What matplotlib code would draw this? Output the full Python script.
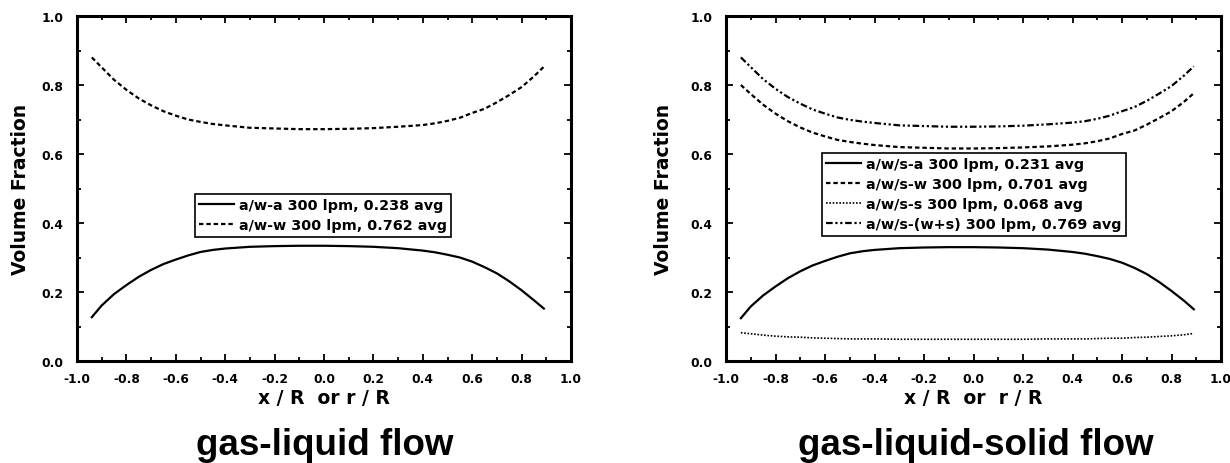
import matplotlib
matplotlib.use("Agg")
import matplotlib.pyplot as plt
from matplotlib.ticker import MultipleLocator, FormatStrFormatter

plt.rcParams['font.family'] = ['DejaVu Sans']
plt.rcParams['font.weight'] = 'bold'

x = [-0.94, -0.9, -0.85, -0.8, -0.75, -0.7, -0.65, -0.6, -0.55, -0.5, -0.45, -0.4, -0.3, -0.2, -0.1,
     0.0, 0.1, 0.2, 0.3, 0.4, 0.45, 0.5, 0.55, 0.6, 0.65, 0.7, 0.75, 0.8, 0.85, 0.89]

gl_air = [0.127, 0.161, 0.194, 0.220, 0.244, 0.264, 0.281, 0.294, 0.306, 0.316, 0.322, 0.326, 0.331, 0.333, 0.334,
          0.334, 0.333, 0.331, 0.327, 0.320, 0.315, 0.308, 0.300, 0.288, 0.272, 0.254, 0.231, 0.205, 0.176, 0.152]
gl_water = [0.880, 0.851, 0.815, 0.786, 0.761, 0.741, 0.724, 0.711, 0.700, 0.693, 0.687, 0.683, 0.676, 0.674, 0.672,
            0.672, 0.673, 0.675, 0.679, 0.684, 0.689, 0.696, 0.705, 0.719, 0.731, 0.750, 0.771, 0.794, 0.825, 0.853]

gls_air = [0.124, 0.158, 0.190, 0.216, 0.240, 0.260, 0.277, 0.290, 0.302, 0.312, 0.318, 0.322, 0.327, 0.329, 0.330,
           0.330, 0.329, 0.327, 0.323, 0.316, 0.311, 0.304, 0.296, 0.285, 0.270, 0.252, 0.229, 0.203, 0.175, 0.150]
gls_water = [0.800, 0.774, 0.743, 0.717, 0.695, 0.677, 0.662, 0.651, 0.641, 0.635, 0.630, 0.626, 0.620, 0.618, 0.616,
             0.616, 0.617, 0.619, 0.622, 0.627, 0.631, 0.637, 0.645, 0.658, 0.668, 0.685, 0.704, 0.724, 0.751, 0.776]
gls_solid = [0.082, 0.079, 0.075, 0.072, 0.070, 0.069, 0.067, 0.066, 0.065, 0.064, 0.064, 0.064, 0.063, 0.063, 0.063,
             0.063, 0.063, 0.063, 0.064, 0.064, 0.064, 0.065, 0.066, 0.066, 0.068, 0.069, 0.071, 0.073, 0.076, 0.080]
gls_ws = [0.880, 0.852, 0.817, 0.789, 0.765, 0.746, 0.729, 0.717, 0.706, 0.699, 0.694, 0.690, 0.683, 0.681, 0.679,
          0.679, 0.680, 0.682, 0.686, 0.691, 0.695, 0.702, 0.711, 0.724, 0.736, 0.754, 0.775, 0.797, 0.827, 0.854]

gl_labels = ["a/w-a 300 lpm, 0.238 avg", "a/w-w 300 lpm, 0.762 avg"]
gls_labels = ["a/w/s-a 300 lpm, 0.231 avg", "a/w/s-w 300 lpm, 0.701 avg",
              "a/w/s-s 300 lpm, 0.068 avg", "a/w/s-(w+s) 300 lpm, 0.769 avg"]
titles = ["gas-liquid flow", "gas-liquid-solid flow"]
xlabels = ["x / R  or r / R", "x / R  or  r / R"]
ylabel = "Volume Fraction"

W, H = 1230, 464
fig = plt.figure(figsize=(W / 100, H / 100), dpi=100)
ax1 = fig.add_axes([77 / W, 1 - 362 / H, 494 / W, 345 / H])
ax2 = fig.add_axes([726 / W, 1 - 362 / H, 495 / W, 345 / H])

lw = 1.6
dash = (0, (2.0, 1.3))
ax1.plot(x, gl_air, color='black', lw=lw, ls='-', label=gl_labels[0])
ax1.plot(x, gl_water, color='black', lw=lw, ls=dash, label=gl_labels[1])

ax2.plot(x, gls_air, color='black', lw=lw, ls='-', label=gls_labels[0])
ax2.plot(x, gls_water, color='black', lw=lw, ls=dash, label=gls_labels[1])
ax2.plot(x, gls_solid, color='black', lw=1.2, ls=(0, (1, 1)), label=gls_labels[2])
ax2.plot(x, gls_ws, color='black', lw=lw, ls=(0, (3, 1.2, 1, 1.2, 1, 1.2)), label=gls_labels[3])

ylab_x = [-0.095, -0.107]
for ax, xl, yx in zip([ax1, ax2], xlabels, ylab_x):
    ax.set_xlim(-1.0, 1.0)
    ax.set_ylim(0.0, 1.0)
    ax.xaxis.set_major_locator(MultipleLocator(0.2))
    ax.xaxis.set_minor_locator(MultipleLocator(0.1))
    ax.yaxis.set_major_locator(MultipleLocator(0.2))
    ax.yaxis.set_minor_locator(MultipleLocator(0.1))
    ax.xaxis.set_major_formatter(FormatStrFormatter('%.1f'))
    ax.yaxis.set_major_formatter(FormatStrFormatter('%.1f'))
    ax.tick_params(which='both', direction='in', top=True, right=True, width=1.3)
    ax.tick_params(which='major', length=5, labelsize=8.8)
    ax.tick_params(axis='x', which='major', pad=8)
    ax.tick_params(axis='y', which='major', pad=10)
    ax.tick_params(which='minor', length=3)
    for lab in ax.get_xticklabels() + ax.get_yticklabels():
        lab.set_fontweight('bold')
    for sp in ax.spines.values():
        sp.set_linewidth(2.2)
    ax.set_xlabel(xl, fontsize=13.5, fontweight='bold')
    ax.xaxis.set_label_coords(0.5, -0.078)
    ax.set_ylabel(ylabel, fontsize=13.5, fontweight='bold')
    ax.yaxis.set_label_coords(yx, 0.5)

fig.text(325 / W, 1 - 455 / H, titles[0], ha='center', va='baseline', fontsize=26.5,
         fontweight='bold', family='Liberation Sans')
fig.text(976 / W, 1 - 455 / H, titles[1], ha='center', va='baseline', fontsize=26.5,
         fontweight='bold', family='Liberation Sans')

leg_kw = dict(loc='upper left', fontsize=10.4, frameon=True, fancybox=False, edgecolor='black',
              handlelength=2.4, handletextpad=0.35, borderpad=0.3, labelspacing=0.42,
              borderaxespad=0, framealpha=1)
leg1 = ax1.legend(bbox_to_anchor=(0.239, 0.484), **leg_kw)
leg2 = ax2.legend(bbox_to_anchor=(0.194, 0.603), **leg_kw)
for leg in (leg1, leg2):
    leg.get_frame().set_linewidth(1.2)
    for t in leg.get_texts():
        t.set_fontweight('bold')

fig.savefig("out.png", dpi=100)
